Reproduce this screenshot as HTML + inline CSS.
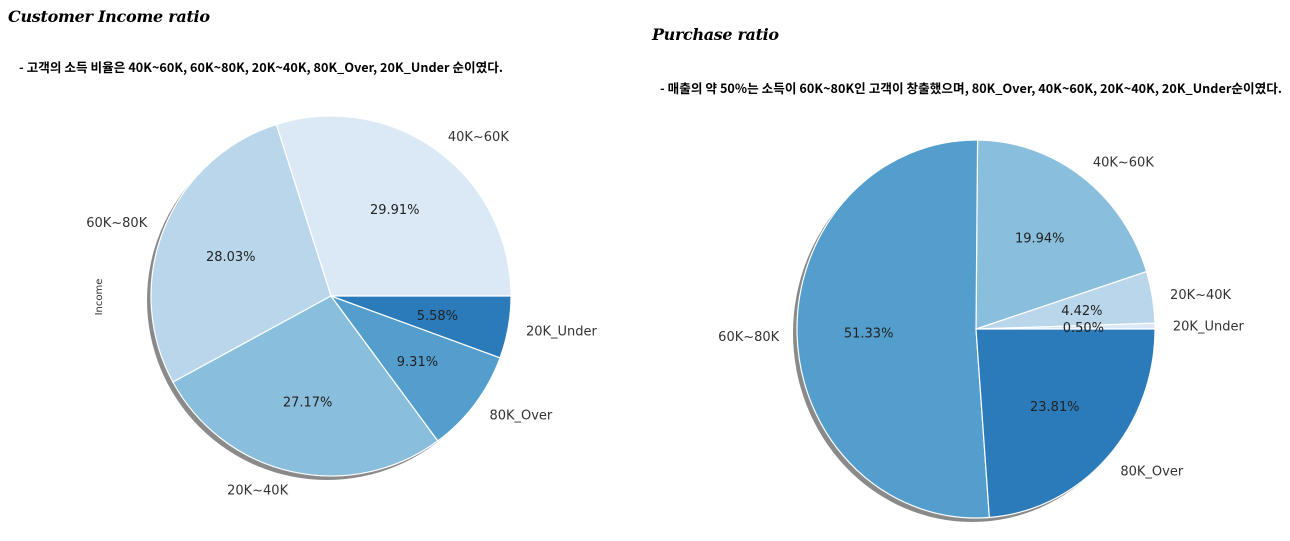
<!DOCTYPE html>
<html><head><meta charset="utf-8"><style>
body{margin:0;background:#fff;width:1290px;height:536px;overflow:hidden}
svg text{font-family:"DejaVu Sans","Liberation Sans","Noto Sans CJK KR",sans-serif}
.t{font-family:"DejaVu Serif","Liberation Serif",serif!important;font-weight:bold;font-style:italic;font-size:16px}
.s{font-family:"Noto Sans CJK KR","NanumGothic",sans-serif!important;font-weight:bold;font-size:12.6px}
</style></head><body>
<svg id="c" width="1290" height="536">
<text class="t" x="8" y="22" textLength="202">Customer Income ratio</text>
<text class="s" x="19" y="72" textLength="484">- 고객의 소득 비율은 40K~60K, 60K~80K, 20K~40K, 80K_Over, 20K_Under 순이였다.</text>
<text class="t" x="652" y="40" textLength="127">Purchase ratio</text>
<text class="s" x="660" y="93" textLength="622">- 매출의 약 50%는 소득이 60K~80K인 고객이 창출했으며, 80K_Over, 40K~60K, 20K~40K, 20K_Under순이였다.</text>
<text x="102" y="297" font-size="10" fill="#333" text-anchor="middle" transform="rotate(-90 102 297)">Income</text>
</svg>
<script>
const incomeCats=["40K~60K","60K~80K","20K~40K","80K_Over","20K_Under"];
const incomeVals=[29.91,28.03,27.17,9.31,5.58];
const purchaseCats=["20K_Under","20K~40K","40K~60K","60K~80K","80K_Over"];
const purchaseVals=[0.50,4.42,19.94,51.33,23.81];
const colors=["#dbe9f6","#bad6eb","#89bedc","#539ecd","#2b7bba"];
const svg=document.getElementById('c');
const NS="http://www.w3.org/2000/svg";
function mk(t,a){const e=document.createElementNS(NS,t);for(const k in a)e.setAttribute(k,a[k]);return e;}
function pie(name,cats,vals,cx,cy,rx,ry){
  const tot=vals.reduce((a,b)=>a+b,0);
  const sh=mk('ellipse',{cx:cx-4,cy:cy+4,rx:rx,ry:ry,fill:'#8a8a8a'});
  
  
  svg.appendChild(sh);
  let a0=0;
  const texts=[];
  vals.forEach((v,i)=>{
    const a1=a0+v/tot*2*Math.PI;
    const x0=cx+rx*Math.cos(a0),y0=cy-ry*Math.sin(a0),x1=cx+rx*Math.cos(a1),y1=cy-ry*Math.sin(a1);
    const large=(a1-a0)>Math.PI?1:0;
    const p=mk('path',{d:`M${cx},${cy}L${x0},${y0}A${rx},${ry} 0 ${large} 0 ${x1},${y1}Z`,fill:colors[i],stroke:'#fff','stroke-width':1.2});
    
    
    svg.appendChild(p);
    const m=(a0+a1)/2,c=Math.cos(m),s=Math.sin(m);
    const lb=mk('text',{x:cx+1.1*rx*c,y:cy-1.1*ry*s+5,'font-size':13,fill:'#333','text-anchor':c>=0?'start':'end'});
    lb.textContent=cats[i];
    
    
    texts.push(lb);
    const pc=mk('text',{x:cx+0.6*rx*c,y:cy-0.6*ry*s+5,'font-size':13,fill:'#222','text-anchor':'middle'});
    pc.textContent=v.toFixed(2)+'%';
    
    
    texts.push(pc);
    a0=a1;
  });
  texts.forEach(t=>svg.appendChild(t));
}
pie('income',incomeCats,incomeVals,331,296,180,180);
pie('purchase',purchaseCats,purchaseVals,976,329,179,189);
</script>
</body></html>
